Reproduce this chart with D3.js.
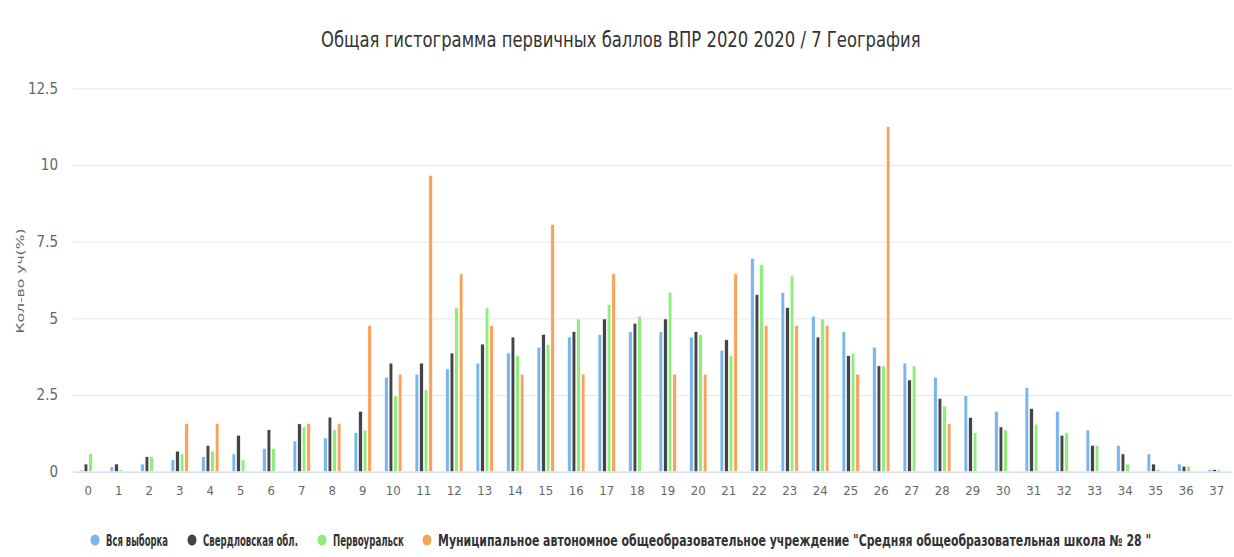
<!DOCTYPE html>
<html lang="ru">
<head>
<meta charset="UTF-8">
<title>Гистограмма ВПР 2020 / 7 География</title>
<script src="https://cdn.jsdelivr.net/npm/d3@7"></script>
<style>
    body { margin: 0; background: #fff; }
    svg { display: block; }
    .narrow { font-family: "Liberation Sans Narrow", "DejaVu Sans Condensed", sans-serif; }
</style>
</head>
<body>
<svg width="1234" height="557"></svg>
<script>
    // баллы 0..37
    const scores = d3.range(0, 38).map(String);

    const seriesNames = ["Вся выборка", "Свердловская обл.", "Первоуральск",
        "Муниципальное автономное общеобразовательное учреждение \"Средняя общеобразовательная школа № 28 \""];
    const seriesColors = ["#7cb5ec", "#434348", "#90ed7d", "#f7a35c"];

    // значения в %
    const vsya = [0.05, 0.16, 0.25, 0.39, 0.49, 0.58, 0.76, 1.0, 1.1, 1.27,
        3.08, 3.18, 3.35, 3.54, 3.87, 4.06, 4.39, 4.47, 4.56, 4.56,
        4.39, 3.96, 6.96, 5.85, 5.07, 4.57, 4.06, 3.54, 3.08, 2.48,
        1.97, 2.75, 1.97, 1.36, 0.86, 0.58, 0.25, 0.07];
    const sverdl = [0.25, 0.25, 0.49, 0.67, 0.86, 1.19, 1.37, 1.56, 1.78, 1.97,
        3.54, 3.54, 3.87, 4.16, 4.39, 4.48, 4.57, 4.98, 4.84, 4.98,
        4.57, 4.3, 5.77, 5.35, 4.39, 3.78, 3.45, 2.99, 2.39, 1.77,
        1.46, 2.06, 1.19, 0.86, 0.58, 0.25, 0.18, 0.07];
    const pervour = [0.58, 0.06, 0.49, 0.58, 0.67, 0.39, 0.76, 1.46, 1.37, 1.36,
        2.47, 2.67, 5.34, 5.34, 3.78, 4.15, 4.98, 5.45, 5.07, 5.85,
        4.47, 3.78, 6.75, 6.38, 4.98, 3.86, 3.45, 3.45, 2.14, 1.27,
        1.36, 1.55, 1.27, 0.86, 0.25, 0.08, 0.18, 0.07];
    const school = [0, 0, 0, 1.57, 1.57, 0, 0, 1.57, 1.57, 4.77,
        3.18, 9.66, 6.45, 4.77, 3.18, 8.06, 3.18, 6.45, 0, 3.18,
        3.18, 6.45, 4.77, 4.77, 4.77, 3.18, 11.25, 0, 1.57, 0,
        0, 0, 0, 0, 0, 0, 0, 0];

    const yTicks = [0, 2.5, 5, 7.5, 10, 12.5];

    const seriesValues = [vsya, sverdl, pervour, school];

    const svg = d3.select("svg");
    const plotL = 73, plotR = 1232, plotT = 88.3, plotB = 471.7;

    // сжать текст по ширине, не трогая высоту букв
    function squeeze(sel, target) {
        sel.each(function (d, i) {
            const w = this.getComputedTextLength();
            const t = typeof target === "function" ? target(d, i) : target;
            if (w > t) d3.select(this).attr("transform", `scale(${t / w},1)`);
        });
    }

    const x = d3.scaleBand().domain(scores).range([plotL, plotR]);
    const sub = d3.scaleBand().domain(d3.range(4))
        .range([x.bandwidth() * 0.2, x.bandwidth() * 0.8])
        .paddingInner(0.2).paddingOuter(0.1);
    const y = d3.scaleLinear().domain([0, 12.5]).range([plotB, plotT]);

    // сетка + подписи оси Y
    const yAxis = svg.append("g")
        .attr("transform", `translate(${plotL},0)`)
        .call(d3.axisLeft(y).tickValues(yTicks).tickFormat(d => String(d))
            .tickSize(-(plotR - plotL)).tickPadding(15));
    yAxis.select(".domain").remove();
    yAxis.selectAll(".tick line").attr("stroke", "#e6e6e6");
    yAxis.selectAll(".tick text").attr("class", "narrow")
        .attr("font-size", 15).attr("fill", "#666");

    // столбцы
    const groups = svg.append("g").selectAll("g")
        .data(scores)
        .join("g")
        .attr("transform", d => `translate(${x(d)},0)`);

    groups.selectAll("rect")
        .data((d, i) => seriesValues.map((s, k) => ({ k: k, v: s[i] })).filter(e => e.v > 0))
        .join("rect")
        .attr("x", e => sub(e.k))
        .attr("width", sub.bandwidth())
        .attr("y", e => y(e.v))
        .attr("height", e => plotB - y(e.v))
        .attr("fill", e => seriesColors[e.k])
        .attr("stroke", "#fff")
        .attr("stroke-width", 0.6);

    // ось X
    const xAxis = svg.append("g")
        .attr("transform", `translate(0,${plotB})`)
        .call(d3.axisBottom(x).tickSize(0).tickPadding(14));
    xAxis.select(".domain").attr("stroke", "#ccd6eb");
    xAxis.selectAll(".tick text").attr("class", "narrow")
        .attr("font-size", 13).attr("fill", "#666");

    // заголовок
    svg.append("g").attr("transform", "translate(321,47)")
        .append("text")
        .attr("class", "narrow")
        .attr("font-size", 22)
        .attr("fill", "#333")
        .text("Общая гистограмма первичных баллов ВПР 2020 2020 / 7 География")
        .call(squeeze, 600);

    // подпись оси Y
    svg.append("text")
        .attr("transform", "translate(24,281) rotate(-90)")
        .attr("text-anchor", "middle")
        .attr("font-family", "DejaVu Sans, sans-serif")
        .attr("font-size", 11)
        .attr("fill", "#666")
        .attr("textLength", 105)
        .attr("lengthAdjust", "spacingAndGlyphs")
        .text("Кол-во уч(%)");

    // легенда
    const legendX = [95, 192, 322, 427];
    const legendW = [62, 95, 71, 714];
    const legend = svg.append("g").selectAll("g")
        .data(seriesNames)
        .join("g")
        .attr("transform", (d, i) => `translate(${legendX[i]},540)`);
    legend.append("ellipse")
        .attr("rx", 4.5).attr("ry", 5.5)
        .attr("fill", (d, i) => seriesColors[i]);
    legend.append("g")
        .attr("transform", "translate(11,5.5)")
        .append("text")
        .attr("class", "narrow")
        .attr("font-size", 15)
        .attr("font-weight", "bold")
        .attr("fill", "#333")
        .text(d => d)
        .call(squeeze, (d, i) => legendW[i]);
</script>
</body>
</html>
